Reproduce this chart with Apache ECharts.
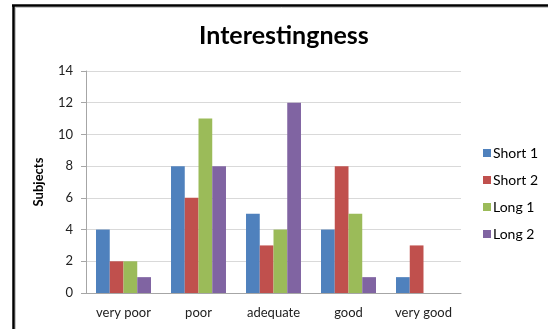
<!DOCTYPE html>
<html>
<head>
<meta charset="utf-8">
<script src="https://cdn.jsdelivr.net/npm/echarts@6/dist/echarts.min.js"></script>
<style>
  html, body { margin: 0; padding: 0; background: #fff; }
  #chart { width: 548px; height: 329px; }
</style>
</head>
<body>
<div id="chart"></div>
<script>
// Ratings of interestingness per video, counted in subjects
const categories = ['very poor', 'poor', 'adequate', 'good', 'very good'];
const short1 = [4, 8, 5, 4, 1];
const short2 = [2, 6, 3, 8, 3];
const long1 = [2, 11, 4, 5, 0];
const long2 = [1, 8, 12, 1, 0];
const seriesNames = ['Short 1', 'Short 2', 'Long 1', 'Long 2'];
const seriesColors = ['#4F81BD', '#C0504D', '#9BBB59', '#8064A2'];
const yTicks = { min: 0, max: 14, step: 2 };

const FONT = 'Lato, "Open Sans", sans-serif';
const chart = echarts.init(document.getElementById('chart'));

const values = [short1, short2, long1, long2];

chart.setOption({
  animation: false,
  backgroundColor: '#ffffff',
  textStyle: { fontFamily: FONT },
  title: {
    text: 'Interestingness',
    left: 199,
    top: 23,
    padding: 0,
    textStyle: { fontFamily: FONT, fontWeight: 'bold', fontSize: 25, color: '#000' }
  },
  legend: {
    orient: 'vertical',
    left: 483,
    top: 146,
    itemWidth: 8,
    itemHeight: 8,
    itemGap: 13,
    icon: 'rect',
    padding: 0,
    data: seriesNames,
    textStyle: { fontFamily: FONT, fontSize: 14, color: '#000', padding: [0, 0, 0, -3] }
  },
  grid: { left: 86, right: 87, top: 71, bottom: 36, containLabel: false },
  xAxis: {
    type: 'category',
    data: categories,
    axisLine: { lineStyle: { color: '#a6a6a6', width: 1 } },
    axisTick: { show: false },
    axisLabel: { margin: 13, fontSize: 13, color: '#222', fontFamily: FONT }
  },
  yAxis: {
    type: 'value',
    min: yTicks.min,
    max: yTicks.max,
    interval: yTicks.step,
    name: 'Subjects',
    nameLocation: 'middle',
    nameRotate: 90,
    nameGap: 41,
    nameTextStyle: { fontFamily: FONT, fontWeight: 'bold', fontSize: 13, color: '#000' },
    axisLine: { show: true, lineStyle: { color: '#a6a6a6', width: 1 } },
    axisTick: { show: true, length: 5, lineStyle: { color: '#a6a6a6' } },
    axisLabel: { margin: 13, fontSize: 13, color: '#222', fontFamily: FONT },
    splitLine: { lineStyle: { color: '#d9d9d9', width: 1 } }
  },
  series: seriesNames.map((name, i) => ({
    name: name,
    type: 'bar',
    data: values[i],
    barGap: '0%',
    barCategoryGap: '26.7%',
    itemStyle: { color: seriesColors[i] }
  })),
  graphic: [
    // outer frame: top and left edges
    { type: 'line', shape: { x1: 12, y1: 5.5, x2: 548, y2: 5.5 }, style: { stroke: '#000', lineWidth: 2.5 } },
    { type: 'line', shape: { x1: 13.5, y1: 5, x2: 13.5, y2: 329 }, style: { stroke: '#000', lineWidth: 2.5 } },
    { type: 'line', shape: { x1: 15, y1: 7.5, x2: 548, y2: 7.5 }, style: { stroke: '#c8c8c8', lineWidth: 1 } },
    { type: 'line', shape: { x1: 15.5, y1: 7, x2: 15.5, y2: 329 }, style: { stroke: '#c8c8c8', lineWidth: 1 } }
  ]
});
</script>
</body>
</html>
